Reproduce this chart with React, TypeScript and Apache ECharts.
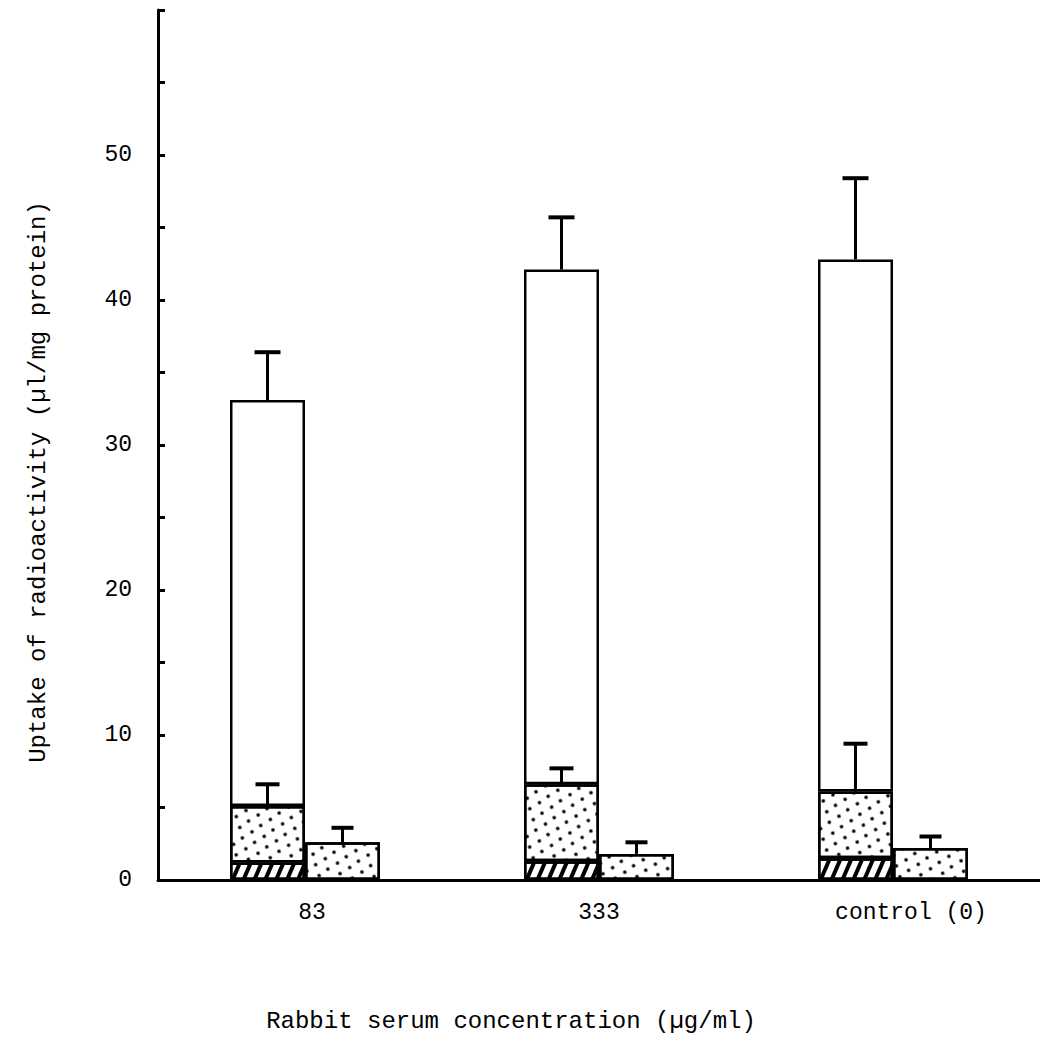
import React, { useEffect, useRef } from "react";
import * as echarts from "echarts";

const categories = ["83", "333", "control (0)"];
// left bar: open (total) uptake, with upper error
const totalUptake = [33.1, 42.1, 42.8];
const totalErr = [3.3, 3.6, 5.6];
// left bar: dotted inner segment
const dottedUptake = [5.1, 6.6, 6.1];
const dottedErr = [1.5, 1.1, 3.3];
// left bar: hatched bottom segment
const hatchedUptake = [1.2, 1.3, 1.5];
// right bar: dotted
const rightUptake = [2.6, 1.8, 2.2];
const rightErr = [1.0, 0.8, 0.8];

const yTickLabels = [0, 10, 20, 30, 40, 50];

const FONT = "Liberation Mono";
const BAR_W = 75;

const dotDecal = {
  symbol: "circle",
  symbolSize: 0.9,
  color: "#000",
  backgroundColor: "#fff",
  dashArrayX: [
    [3.5, 9],
    [0, 6, 3.5, 3],
  ],
  dashArrayY: [3.5, 5],
  rotation: 0.35,
};

const hatchDecal = {
  symbol: "rect",
  symbolSize: 1,
  color: "#000",
  backgroundColor: "#fff",
  dashArrayX: [1, 0],
  dashArrayY: [3.5, 6],
  rotation: -Math.PI / 2.7,
};

function errorSeries(name: string, bases: number[], errs: number[], offset: number, cap: number) {
  return {
    name,
    type: "custom",
    z: 5,
    data: bases.map((b, i) => [i, b, b + errs[i]]),
    renderItem: (params: any, api: any) => {
      const p0 = api.coord([api.value(0), api.value(1)]);
      const p1 = api.coord([api.value(0), api.value(2)]);
      const x = p0[0] + offset;
      const st = { stroke: "#000", lineWidth: 3, fill: "none" };
      return {
        type: "group",
        children: [
          { type: "line", shape: { x1: x, y1: p0[1], x2: x, y2: p1[1] }, style: st },
          { type: "line", shape: { x1: x - cap / 2, y1: p1[1], x2: x + cap / 2, y2: p1[1] }, style: { ...st, lineWidth: 4 } },
        ],
      };
    },
  };
}

export default function App() {
  const ref = useRef<HTMLDivElement>(null);
  useEffect(() => {
    document.body.style.margin = "0";
    const chart = echarts.init(ref.current!, null, { renderer: "svg" });
    const barItem = (decal: any) => ({
      color: "#fff",
      borderColor: "#000",
      borderWidth: 2.5,
      ...(decal ? { decal } : {}),
    });
    chart.setOption({
      animation: false,
      backgroundColor: "#fff",
      grid: { left: 158, right: -8, top: 10, bottom: 162, containLabel: false },
      xAxis: {
        type: "category",
        data: categories.map((c, i) =>
          i === 2 ? { value: c, textStyle: { padding: [0, 0, 0, 36] } } : i === 0 ? { value: c, textStyle: { padding: [0, 0, 0, 14] } } : c
        ),
        axisLine: { lineStyle: { color: "#000", width: 3 } },
        axisTick: { show: false },
        axisLabel: { color: "#000", fontFamily: FONT, fontSize: 23, margin: 21 },
      },
      yAxis: {
        type: "value",
        min: 0,
        max: 60,
        interval: 5,
        splitLine: { show: false },
        axisLine: { show: true, lineStyle: { color: "#000", width: 3 } },
        axisTick: { show: true, inside: true, length: 7, lineStyle: { color: "#000", width: 3 } },
        axisLabel: {
          color: "#000",
          fontFamily: FONT,
          fontSize: 23,
          margin: 26,
          formatter: (v: number) => (yTickLabels.includes(v) ? String(v) : ""),
        },
      },
      graphic: [
        {
          type: "text",
          x: 38,
          y: 482,
          rotation: Math.PI / 2,
          style: {
            text: "Uptake of radioactivity (µl/mg protein)",
            fontFamily: FONT,
            fontSize: 24,
            fill: "#000",
            textAlign: "center",
            textVerticalAlign: "middle",
          },
        },
        {
          type: "text",
          x: 511,
          y: 1021,
          style: {
            text: "Rabbit serum concentration (µg/ml)",
            fontFamily: FONT,
            fontSize: 24,
            fill: "#000",
            textAlign: "center",
            textVerticalAlign: "middle",
          },
        },
      ],
      series: [
        {
          name: "hatched",
          type: "bar",
          stack: "left",
          barWidth: BAR_W,
          barGap: "0%",
          data: hatchedUptake,
          itemStyle: barItem(hatchDecal),
        },
        {
          name: "dotted",
          type: "bar",
          stack: "left",
          barWidth: BAR_W,
          data: dottedUptake.map((v, i) => v - hatchedUptake[i]),
          itemStyle: barItem(dotDecal),
        },
        {
          name: "open",
          type: "bar",
          stack: "left",
          barWidth: BAR_W,
          data: totalUptake.map((v, i) => v - dottedUptake[i]),
          itemStyle: barItem(null),
        },
        {
          name: "right dotted",
          type: "bar",
          stack: "right",
          barWidth: BAR_W,
          barGap: "0%",
          data: rightUptake,
          itemStyle: barItem(dotDecal),
        },
        errorSeries("open err", totalUptake, totalErr, -BAR_W / 2, 26),
        errorSeries("dotted err", dottedUptake, dottedErr, -BAR_W / 2, 24),
        errorSeries("right err", rightUptake, rightErr, BAR_W / 2, 22),
      ],
    });
    return () => chart.dispose();
  }, []);
  return <div ref={ref} style={{ width: 1040, height: 1042 }} />;
}
